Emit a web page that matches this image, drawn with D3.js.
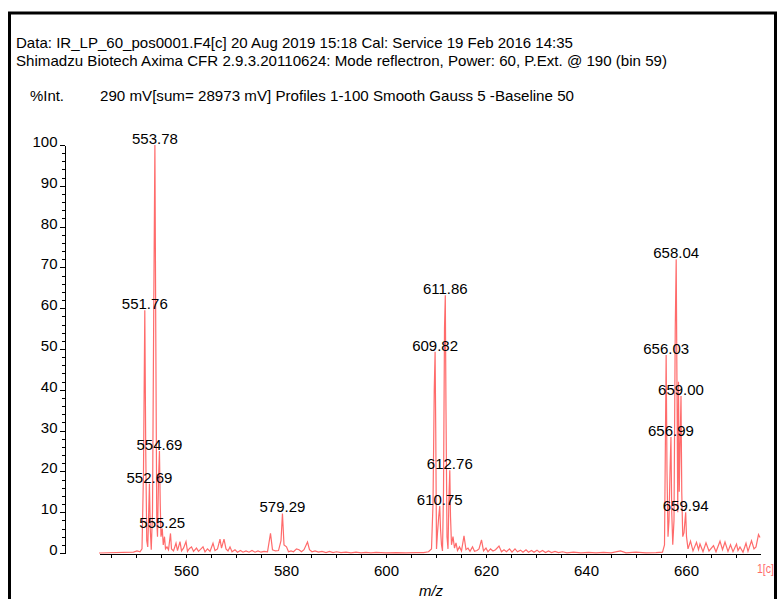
<!DOCTYPE html>
<html lang="en">
<head>
<meta charset="UTF-8">
<script src="https://cdn.jsdelivr.net/npm/d3@7"></script>
<title>Spectrum</title>
<style>
  body { margin: 0; background: #fff; }
  svg text { font-family: "Liberation Sans", Arial, sans-serif; fill: #000; }
  .axis path, .axis line { stroke: #000; shape-rendering: crispEdges; }
  .axis text { font-size: 15px; }
</style>
</head>
<body>
<div id="container"></div>
<script>
// header texts
var headerLines = [
  "Data: IR_LP_60_pos0001.F4[c] 20 Aug 2019 15:18 Cal: Service 19 Feb 2016 14:35",
  "Shimadzu Biotech Axima CFR 2.9.3.20110624: Mode reflectron, Power: 60, P.Ext. @ 190 (bin 59)"
];
var yTitle = "%Int.";
var infoLine = "290 mV[sum= 28973 mV]  Profiles 1-100 Smooth Gauss 5 -Baseline 50";
var xTitle = "m/z";
var traceName = "1[c]";

// axis ticks
var xTicks = [560, 580, 600, 620, 640, 660];
var yTicks = [0, 10, 20, 30, 40, 50, 60, 70, 80, 90, 100];

// spectrum (m/z, %Int)
var mz = [
  542.6, 549.5, 550.2, 550.8, 551.2, 551.5, 551.76, 551.95, 552.15, 552.35, 552.5, 552.69, 552.85, 553.05,
  553.3, 553.55, 553.78, 553.95, 554.15, 554.3, 554.5, 554.69, 554.85, 555.0, 555.25, 555.45, 555.7, 555.9,
  556.2, 556.5, 556.9, 557.1, 557.5, 558.0, 558.3, 558.8, 559.1, 559.5, 560.0, 560.3, 560.7, 561.1, 561.5,
  562.1, 562.5, 563.0, 563.4, 563.8, 564.3, 564.8, 565.4, 565.8, 566.3, 566.8, 567.1, 567.6, 568.0, 568.4,
  568.8, 569.2, 569.8, 570.3, 570.9, 571.4, 572.0, 572.6, 573.2, 573.8, 574.4, 575.0, 575.6, 576.3, 576.9,
  577.3, 577.9, 578.5, 579.0, 579.29, 579.6, 580.1, 580.5, 581.0, 581.5, 582.1, 582.6, 583.1, 583.6, 584.3,
  584.7, 585.2, 585.8, 586.5, 587.2, 588.0, 588.7, 589.4, 590.1, 591, 592, 593, 594, 595, 596, 597, 598,
  600, 602, 604, 606, 607.5, 608.5, 609.1, 609.4, 609.65, 609.82, 609.95, 610.1, 610.3, 610.55, 610.75,
  610.9, 611.1, 611.3, 611.5, 611.7, 611.86, 612.0, 612.2, 612.4, 612.6, 612.76, 612.9, 613.1, 613.4,
  613.7, 614.0, 614.3, 614.7, 615.1, 615.6, 616.0, 616.4, 616.8, 617.3, 617.7, 618.2, 618.6, 619.1, 619.5,
  620.0, 620.4, 620.9, 621.4, 621.9, 622.6, 623.1, 623.6, 624.1, 624.7, 625.2, 625.8, 626.3, 626.9, 627.4,
  628.0, 628.5, 629.1, 629.6, 630.2, 630.7, 631.3, 631.9, 632.5, 633.1, 633.8, 634.5, 635.3, 636.2, 637.5,
  639, 640.5, 642, 643.5, 645, 646.9, 648, 650, 652, 654, 655.3, 655.7, 655.9, 656.03, 656.2, 656.4,
  656.6, 656.8, 656.99, 657.15, 657.35, 657.6, 657.85, 658.04, 658.2, 658.35, 658.5, 658.65, 658.8, 659.0,
  659.15, 659.35, 659.6, 659.8, 659.94, 660.1, 660.4, 660.9, 661.4, 662.1, 662.5, 662.8, 663.4, 664.0,
  664.6, 665.5, 666.0, 666.8, 667.3, 667.8, 668.4, 668.9, 669.4, 670.1, 670.4, 670.8, 671.4, 672.0,
  672.4, 673.1, 673.6, 674.0, 674.5, 674.8
];
var intensity = [
  0, 0.2, 0.5, 0.3, 1, 20, 59.5, 25, 3, 1.5, 8, 17, 6, 0.8,
  10, 60, 100, 55, 8, 4, 18, 25, 12, 4, 6, 2, 4, 1,
  1.5, 0.8, 4.8, 1, 0.5, 2.4, 0.6, 2.8, 0.5, 1.2, 2.8, 0.4, 1.1, 1.5, 0.4,
  1.2, 0.4, 1.0, 1.5, 0.3, 1.0, 0.4, 2.4, 0.6, 1.0, 3.4, 1.2, 3.4, 1.0, 0.5,
  1.5, 0.3, 0.8, 0.2, 0.6, 0.2, 0.5, 0.2, 0.6, 0.2, 0.5, 0.2, 0.4, 0.3, 4.8,
  0.8, 0.5, 0.6, 3, 9.7, 2, 1.5, 0.3, 0.5, 0.3, 1.0, 0.8, 0.3, 0.8, 2.7,
  0.8, 0.3, 0.5, 0.2, 0.4, 0.1, 0.4, 0.1, 0.3, 0.1, 0.2, 0.05, 0.2, 0.05, 0.15, 0.05, 0.15,
  0.05, 0.1, 0.05, 0.1, 0.1, 0.3, 1, 12, 40, 49.3, 30, 1, 5, 9, 11.5,
  6, 2, 0.5, 15, 55, 63.2, 35, 4, 1, 14, 20.3, 9, 2, 4,
  1.2, 2.5, 0.6, 1.5, 0.5, 4.2, 0.8, 1.2, 0.4, 1.5, 0.4, 0.6, 1.0, 3.2, 0.5,
  1.2, 0.3, 1.0, 0.5, 0.8, 1.7, 0.3, 0.8, 0.3, 1.0, 0.2, 1.0, 0.3, 0.7, 0.2,
  0.8, 0.2, 0.6, 0.2, 0.7, 0.2, 0.6, 0.1, 0.5, 0.1, 0.4, 0.1, 0.3, 0.05, 0.2,
  0.05, 0.15, 0.05, 0.15, 0.05, 0.5, 0.05, 0.2, 0.05, 0.1, 0.2, 2, 30, 48.5, 20, 4,
  8, 20, 28.4, 10, 2, 8, 55, 72, 40, 10, 42, 15, 25, 38.5,
  15, 4, 5, 8, 10, 4, 1, 2.9, 0.5, 2.6, 0.8, 2.2, 0.3, 2.5,
  0.5, 1.8, 0.3, 2.9, 0.8, 2.7, 0.4, 2.0, 0.3, 2.2, 0.6, 1.5, 0.2, 2.4,
  0.4, 3.0, 1.0, 1.5, 4.5, 3.8
];

// labelled peaks
var peakLabels = ["553.78", "551.76", "554.69", "552.69", "555.25", "579.29", "611.86", "609.82",
                  "612.76", "610.75", "658.04", "656.03", "659.00", "656.99", "659.94"];
var peakHeights = [100, 59.5, 25, 17, 6, 9.7, 63.2, 49.3, 20.3, 11.5, 72, 48.5, 38.5, 28.4, 10];

const width = 777;
const height = 599;
const red = "#ff6b6b";

const svg = d3.select("#container")
              .append("svg")
              .attr("width", width)
              .attr("height", height);

// page frame
svg.append("path")
   .attr("d", "M9.5,599 V13 H775.5 V599")
   .attr("fill", "none")
   .attr("stroke", "#000")
   .attr("stroke-width", 3);

// header
svg.selectAll("text.head")
   .data(headerLines)
   .enter()
   .append("text")
   .attr("class", "head")
   .attr("x", 16)
   .attr("y", function(d, i){ return 48 + i * 18; })
   .attr("textLength", function(d, i){ return i == 0 ? 557 : 651; })
   .attr("lengthAdjust", "spacingAndGlyphs")
   .style("font-size", "15px")
   .text(function(d){ return d; });

svg.append("text")
   .attr("x", 30).attr("y", 101)
   .attr("textLength", 34).attr("lengthAdjust", "spacingAndGlyphs")
   .style("font-size", "15px")
   .text(yTitle);

svg.append("text")
   .attr("x", 100).attr("y", 101)
   .attr("textLength", 474).attr("lengthAdjust", "spacingAndGlyphs")
   .style("font-size", "15px")
   .text(infoLine);

var xScale = d3.scaleLinear()
               .domain([542.6, 674.8])
               .range([99, 760]);

var yScale = d3.scaleLinear()
               .domain([0, 100])
               .range([553, 145]);

// x axis: minor ticks every 5, labels every 20
svg.append("g")
   .attr("class", "axis")
   .attr("transform", "translate(0,553.5)")
   .call(d3.axisBottom(xScale).tickValues(d3.range(545, 675, 5)).tickSize(4).tickSizeOuter(0).tickFormat(""));

svg.append("g")
   .attr("class", "axis")
   .attr("transform", "translate(0,553.5)")
   .call(d3.axisBottom(xScale).tickValues(xTicks).tickSize(4).tickSizeOuter(0).tickPadding(8))
   .select(".domain").remove();

// y axis: minor ticks every 2, labels every 10
svg.append("g")
   .attr("class", "axis")
   .attr("transform", "translate(64.5,0)")
   .call(d3.axisLeft(yScale).tickValues(d3.range(0, 101, 2)).tickSize(3).tickSizeOuter(0).tickFormat(""));

var gy = svg.append("g")
   .attr("class", "axis")
   .attr("transform", "translate(64.5,0)")
   .call(d3.axisLeft(yScale).tickValues(yTicks).tickSize(5).tickSizeOuter(0).tickPadding(2));
gy.select(".domain").remove();
gy.selectAll("text").attr("dy", "0.1em");

// spectrum
var spec = mz.map(function(d, i){ return [d, intensity[i]]; });
var line = d3.line()
             .x(function(d){ return xScale(d[0]); })
             .y(function(d){ return yScale(d[1]); });

svg.append("path")
   .datum(spec)
   .attr("d", line)
   .attr("fill", "none")
   .attr("stroke", red)
   .attr("stroke-width", 1.2);

// peak labels
svg.selectAll("text.peak")
   .data(peakLabels)
   .enter()
   .append("text")
   .attr("class", "peak")
   .attr("x", function(d){ return xScale(+d); })
   .attr("y", function(d, i){ return yScale(peakHeights[i]) - 1; })
   .attr("text-anchor", "middle")
   .style("font-size", "15px")
   .text(function(d){ return d; });

// axis title and trace name
svg.append("text")
   .attr("x", 431).attr("y", 596)
   .attr("text-anchor", "middle")
   .style("font-size", "15px")
   .style("font-style", "italic")
   .text(xTitle);

// trace name, squeezed so it stays inside the page
svg.append("text")
   .attr("x", 757).attr("y", 573)
   .attr("textLength", 17).attr("lengthAdjust", "spacingAndGlyphs")
   .style("font-size", "13px")
   .style("fill", red)
   .text(traceName);
</script>
</body>
</html>
